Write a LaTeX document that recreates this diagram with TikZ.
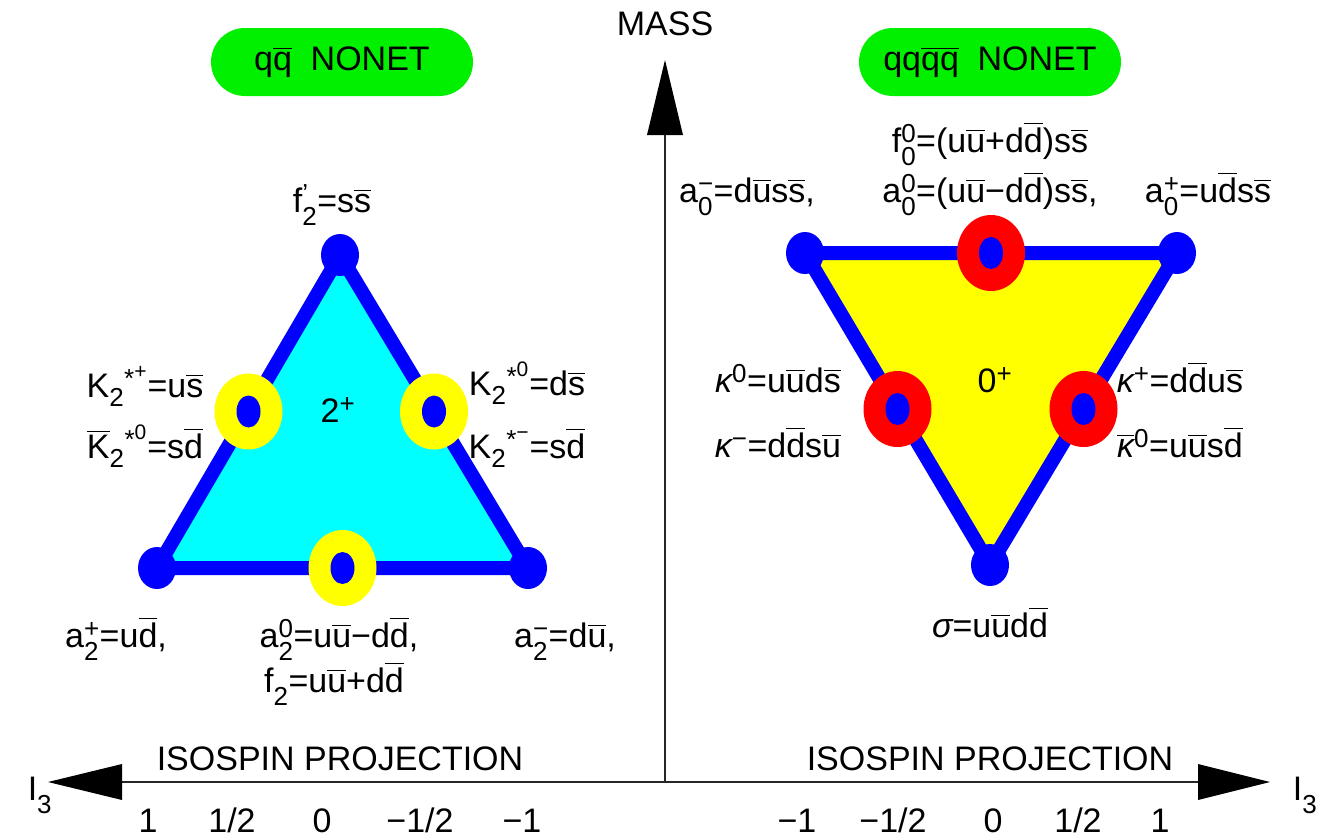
\documentclass[tikz,border=0pt]{standalone}
\usepackage{amsmath}
\usepackage{fontspec}
\setmainfont{Liberation Sans}
\usetikzlibrary{calc}
\DeclareMathSizes{34}{34}{26}{21}
\newcommand{\ob}[1]{\ensuremath{\overline{\text{#1}}}}
\newcommand{\lab}[3]{#1\ensuremath{_{\text{#2}}^{\text{#3}}}}
\newcommand{\kstar}[1]{K\ensuremath{_{\text{2}}{}^{\text{*}^{\text{#1}}}}}
\newcommand{\kap}{{\itshape κ}}
\definecolor{pillgreen}{RGB}{0,240,0}
\definecolor{cyanfill}{RGB}{0,255,255}
\definecolor{yel}{RGB}{255,255,0}
\definecolor{blu}{RGB}{0,0,255}
\definecolor{rd}{RGB}{255,0,0}
\tikzset{
  lbl/.style={anchor=base, inner sep=0pt, font=\fontsize{34}{40}\selectfont},
  pill/.style={fill=pillgreen, rounded corners=34pt, minimum width=262pt, minimum height=68pt, inner sep=0pt, font=\fontsize{34}{40}\selectfont},
  edge/.style={draw=blu, line width=14pt, line join=round},
  axis/.style={draw=black!85, line width=1.4pt},
}
\begin{document}
\begin{tikzpicture}[x=1pt,y=-1pt]
\useasboundingbox (0,0) rectangle (1320,839);

% axes
\coordinate (O) at (665,782);
\coordinate (vtip) at (665,60);
\coordinate (vbase) at (665,135);
\coordinate (ltip) at (48,782);
\coordinate (lbase) at (122,782);
\coordinate (rtip) at (1270,782);
\coordinate (rbase) at (1198,782);
\draw[axis] (O) -- (vbase);
\draw[axis] (lbase) -- (rbase);
\fill (vtip) -- ($(vbase)+(-18,0)$) -- ($(vbase)+(18,0)$) -- cycle;
\fill (ltip) -- ($(lbase)+(0,-18)$) -- ($(lbase)+(0,18)$) -- cycle;
\fill (rtip) -- ($(rbase)+(0,-18)$) -- ($(rbase)+(0,18)$) -- cycle;

\node[lbl] (mass) at (665,35) {MASS};
\node[lbl] (i3l) at (40,800) {\lab{I}{3}{}};
\node[lbl] (i3r) at (1305,800) {\lab{I}{3}{}};
\node[lbl] (isol) at (340,770) {ISOSPIN PROJECTION};
\node[lbl] (isor) at (990,770) {ISOSPIN PROJECTION};

\foreach \x/\t [count=\i] in {148/{1}, 232/{1/2}, 322/{0}, 420/{−1/2}, 522/{−1}}
  \node[lbl] (tl\i) at (\x,832) {\t};
\foreach \x/\t [count=\i] in {797/{−1}, 893/{−1/2}, 993/{0}, 1078/{1/2}, 1160/{1}}
  \node[lbl] (tr\i) at (\x,832) {\t};

% pills
\node[pill] (boxl) at (342,62) {q\ob{q}\hspace{0.55em}NONET};
\node[pill] (boxr) at (990,62) {qq\ob{qq}\hspace{0.55em}NONET};

% left triangle
\coordinate (A) at (340,255);
\coordinate (B) at (157,568);
\coordinate (C) at (528,568);
\path[edge, fill=cyanfill] (A) -- (B) -- (C) -- cycle;
\foreach \p in {A,B,C} \fill[blu] (\p) ellipse [x radius=19, y radius=21];
\foreach \p/\q in {A/B, A/C, B/C} {
  \fill[yel] ($(\p)!0.5!(\q)$) ellipse [x radius=34, y radius=38];
  \fill[blu] ($(\p)!0.5!(\q)$) ellipse [x radius=12, y radius=16];
}
\node[lbl] (two) at (338,422) {2\ensuremath{^{\text{+}}}};

% right triangle
\coordinate (D) at (805,253);
\coordinate (E) at (1177,253);
\coordinate (F) at (990,565);
\path[edge, fill=yel] (D) -- (E) -- (F) -- cycle;
\foreach \p in {D,E,F} \fill[blu] (\p) ellipse [x radius=19, y radius=21];
\foreach \p/\q in {D/E, D/F, E/F} {
  \fill[rd] ($(\p)!0.5!(\q)$) ellipse [x radius=34, y radius=38];
  \fill[blu] ($(\p)!0.5!(\q)$) ellipse [x radius=12, y radius=16];
}
\node[lbl] (zero) at (995,392) {0\ensuremath{^{\text{+}}}};

% left labels
\node[lbl] (f2p) at (332,212) {\lab{f}{2}{’}=s\ob{s}};
\node[lbl] (kp) at (145,397) {\kstar{+}=u\ob{s}};
\node[lbl] (kb0) at (145,458) {\ob{K}\ensuremath{_{\text{2}}{}^{\text{*}^{\text{0}}}}=s\ob{d}};
\node[lbl] (k0) at (527,395) {\kstar{0}=d\ob{s}};
\node[lbl] (km) at (527,458) {\kstar{−}=s\ob{d}};
\node[lbl] (a2p) at (116,647) {\lab{a}{2}{+}=u\ob{d},};
\node[lbl] (a20) at (339,647) {\lab{a}{2}{0}=u\ob{u}−d\ob{d},};
\node[lbl] (a2m) at (565,647) {\lab{a}{2}{−}=d\ob{u},};
\node[lbl] (f2) at (334,692) {\lab{f}{2}{}=u\ob{u}+d\ob{d}};

% right labels
\node[lbl] (f00) at (990,152) {\lab{f}{0}{0}=(u\ob{u}+d\ob{d})s\ob{s}};
\node[lbl] (a0m) at (747,202) {\lab{a}{0}{−}=d\ob{u}s\ob{s},};
\node[lbl] (a00) at (990,202) {\lab{a}{0}{0}=(u\ob{u}−d\ob{d})s\ob{s},};
\node[lbl] (a0p) at (1208,202) {\lab{a}{0}{+}=u\ob{d}s\ob{s}};
\node[lbl] (ka0) at (778,392) {\kap\ensuremath{^{\text{0}}}=u\ob{u}d\ob{s}};
\node[lbl] (kam) at (778,457) {\kap\ensuremath{^{\text{−}}}=d\ob{d}s\ob{u}};
\node[lbl] (kapl) at (1180,392) {\kap\ensuremath{^{\text{+}}}=d\ob{d}u\ob{s}};
\node[lbl] (kab0) at (1180,457) {\ensuremath{\overline{\text{\kap}}}\ensuremath{^{\text{0}}}=u\ob{u}s\ob{d}};
\node[lbl] (sig) at (990,637) {{\itshape σ}=u\ob{u}d\ob{d}};
\end{tikzpicture}
\end{document}
